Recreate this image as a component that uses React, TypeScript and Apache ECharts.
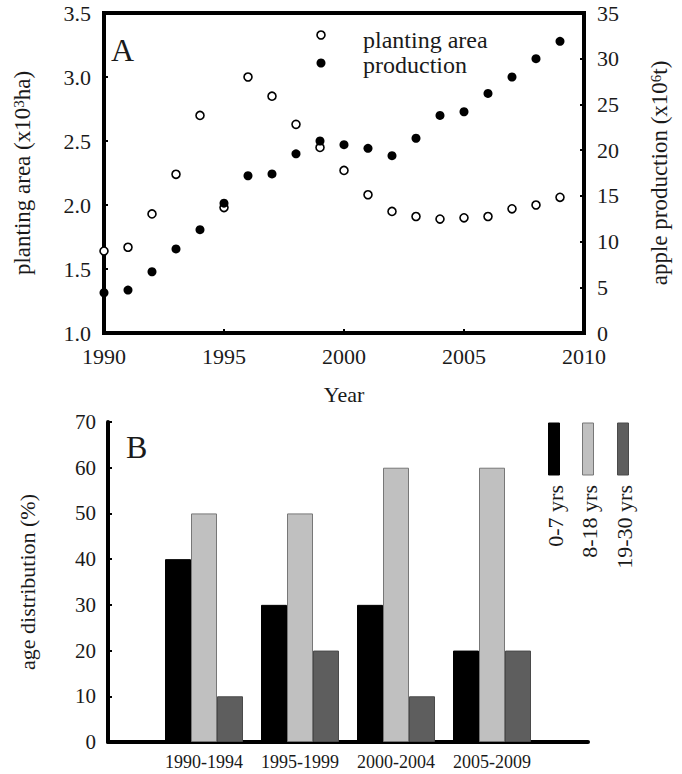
import React, { useEffect, useRef } from "react";
import * as echarts from "echarts";

const years = [1990, 1991, 1992, 1993, 1994, 1995, 1996, 1997, 1998, 1999, 2000, 2001, 2002, 2003, 2004, 2005, 2006, 2007, 2008, 2009];
const plantingArea = [1.64, 1.67, 1.93, 2.24, 2.70, 1.98, 3.00, 2.85, 2.63, 2.45, 2.27, 2.08, 1.95, 1.91, 1.89, 1.90, 1.91, 1.97, 2.00, 2.06];
const production = [4.4, 4.7, 6.7, 9.2, 11.3, 14.2, 17.2, 17.4, 19.6, 21.0, 20.6, 20.2, 19.4, 21.3, 23.8, 24.2, 26.2, 28.0, 30.0, 31.9];

const periods = ["", "1990-1994", "1995-1999", "2000-2004", "2005-2009", ""];
const age0to7 = [null, 40, 30, 30, 20, null];
const age8to18 = [null, 50, 50, 60, 60, null];
const age19to30 = [null, 10, 20, 10, 20, null];
const ageNames = ["0-7 yrs", "8-18 yrs", "19-30 yrs"];
const ageColors = ["#000000", "#c0c0c0", "#5e5e5e"];
const ageBorders = ["#000000", "#777777", "#4a4a4a"];

const FONT = "Liberation Serif";
const TXT = "#1a1a1a";

export default function App() {
  const ref = useRef<HTMLDivElement>(null);
  useEffect(() => {
    if (!ref.current) return;
    const chart = echarts.init(ref.current, null, { renderer: "svg" });
    const tickLabel = (size: number) => ({ fontFamily: FONT, fontSize: size, color: TXT });
    const ageSeries = [age0to7, age8to18, age19to30].map((d, i) => ({
      type: "bar",
      name: ageNames[i],
      xAxisIndex: 1,
      yAxisIndex: 2,
      data: d,
      barWidth: 26,
      barGap: "0%",
      itemStyle: { color: ageColors[i], borderColor: ageBorders[i], borderWidth: 1 },
    }));
    const legendX = [554, 588, 623];
    const legendGraphics: any[] = [];
    ageNames.forEach((n, i) => {
      legendGraphics.push({
        type: "rect",
        shape: { x: legendX[i] - 5.5, y: 423, width: 11, height: 52 },
        style: { fill: ageColors[i], stroke: ageBorders[i], lineWidth: 1 },
      });
      legendGraphics.push({
        type: "text",
        x: legendX[i] + 1,
        y: 485,
        rotation: Math.PI / 2,
        style: { text: n, font: `22px "${FONT}"`, fill: TXT, align: "right", verticalAlign: "middle" },
      });
    });
    chart.setOption({
      animation: false,
      backgroundColor: "#ffffff",
      grid: [
        { left: 104, top: 13, width: 480, height: 320, show: true, borderColor: "#000", borderWidth: 4, backgroundColor: "transparent" },
        { left: 108, top: 422, width: 480, height: 320 },
      ],
      xAxis: [
        {
          type: "value",
          gridIndex: 0,
          min: 1990,
          max: 2010,
          interval: 5,
          axisLine: { show: false },
          axisTick: { show: true, inside: true, length: 4, lineStyle: { color: "#000", width: 2 } },
          axisLabel: { ...tickLabel(22), margin: 12, formatter: (v: number) => String(v) },
          splitLine: { show: false },
          name: "Year",
          nameLocation: "middle",
          nameGap: 50,
          nameTextStyle: { fontFamily: FONT, fontSize: 22, color: TXT },
        },
        {
          type: "category",
          gridIndex: 1,
          data: periods,
          boundaryGap: false,
          axisLine: { show: true, lineStyle: { color: "#000", width: 4 } },
          axisTick: { show: false },
          axisLabel: { ...tickLabel(18), margin: 11, interval: 0 },
          splitLine: { show: false },
        },
      ],
      yAxis: [
        {
          type: "value",
          gridIndex: 0,
          min: 1,
          max: 3.5,
          interval: 0.5,
          position: "left",
          axisLine: { show: false },
          axisTick: { show: true, inside: true, length: 4, lineStyle: { color: "#000", width: 2 } },
          axisLabel: { ...tickLabel(22), margin: 13, formatter: (v: number) => v.toFixed(1) },
          splitLine: { show: false },
          name: "planting area (x10{sup|3}ha)",
          nameLocation: "middle",
          nameGap: 70,
          nameTextStyle: {
            fontFamily: FONT,
            fontSize: 23,
            color: TXT,
            rich: { sup: { fontFamily: FONT, fontSize: 15, color: TXT, verticalAlign: "top", lineHeight: 23 } },
          },
        },
        {
          type: "value",
          gridIndex: 0,
          min: 0,
          max: 35,
          interval: 5,
          position: "right",
          axisLine: { show: false },
          axisTick: { show: true, inside: true, length: 4, lineStyle: { color: "#000", width: 2 } },
          axisLabel: { ...tickLabel(22), margin: 13 },
          splitLine: { show: false },
          name: "apple production (x10{sup|6}t)",
          nameLocation: "middle",
          nameGap: 64,
          nameTextStyle: {
            fontFamily: FONT,
            fontSize: 23,
            color: TXT,
            rich: { sup: { fontFamily: FONT, fontSize: 15, color: TXT, verticalAlign: "top", lineHeight: 23 } },
          },
        },
        {
          type: "value",
          gridIndex: 1,
          min: 0,
          max: 70,
          interval: 10,
          axisLine: { show: true, lineStyle: { color: "#000", width: 4 } },
          axisTick: { show: true, inside: true, length: 4, lineStyle: { color: "#000", width: 2 } },
          axisLabel: { ...tickLabel(21), margin: 12 },
          splitLine: { show: false },
          name: "age distribution (%)",
          nameLocation: "middle",
          nameGap: 70,
          nameTextStyle: { fontFamily: FONT, fontSize: 22, color: TXT },
        },
      ],
      series: [
        {
          type: "scatter",
          name: "planting area",
          xAxisIndex: 0,
          yAxisIndex: 0,
          clip: false,
          symbol: "circle",
          symbolSize: 8,
          itemStyle: { color: "#ffffff", borderColor: "#000", borderWidth: 1.6, opacity: 1 },
          data: years.map((y, i) => [y, plantingArea[i]]),
          z: 3,
        },
        {
          type: "scatter",
          name: "production",
          xAxisIndex: 0,
          yAxisIndex: 1,
          clip: false,
          symbol: "circle",
          symbolSize: 9,
          itemStyle: { color: "#000000", opacity: 1 },
          data: years.map((y, i) => [y, production[i]]),
          z: 4,
        },
        ...ageSeries,
      ],
      graphic: [
        { type: "text", x: 111, y: 50, style: { text: "A", font: `32px "${FONT}"`, fill: TXT, verticalAlign: "middle" } },
        { type: "text", x: 126, y: 447, style: { text: "B", font: `32px "${FONT}"`, fill: TXT, verticalAlign: "middle" } },
        { type: "circle", shape: { cx: 321, cy: 35, r: 4 }, style: { fill: "#fff", stroke: "#000", lineWidth: 1.6 } },
        { type: "circle", shape: { cx: 321, cy: 63, r: 4.5 }, style: { fill: "#000" } },
        { type: "text", x: 363, y: 40, style: { text: "planting area", font: `24px "${FONT}"`, fill: TXT, verticalAlign: "middle" } },
        { type: "text", x: 363, y: 65, style: { text: "production", font: `24px "${FONT}"`, fill: TXT, verticalAlign: "middle" } },
        ...legendGraphics,
      ],
    });
    return () => chart.dispose();
  }, []);
  return <div ref={ref} style={{ position: "fixed", left: 0, top: 0, width: 682, height: 774 }} />;
}
